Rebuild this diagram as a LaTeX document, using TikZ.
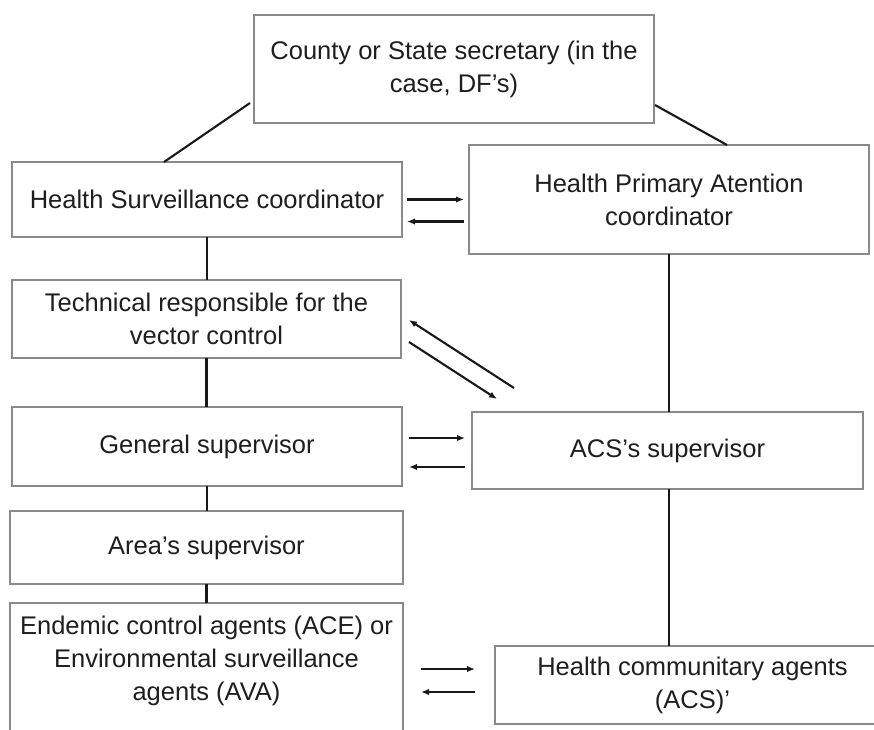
\documentclass[tikz,border=0pt]{standalone}
\usepackage{fontspec}
\setmainfont{Liberation Sans}
\usetikzlibrary{arrows.meta,calc}
\definecolor{boxgray}{HTML}{8A8A8A}
\definecolor{txt}{HTML}{1E1E1E}
\tikzset{
  orgbox/.style={draw=boxgray, line width=2.4pt, fill=white, inner sep=0pt, outer sep=0pt,
    align=center, text=txt, font=\fontsize{25.5pt}{33pt}\selectfont},
  link/.style={draw=black!90, line width=2.1pt},
  arr/.style={draw=black!90, line width=2.1pt, -{Latex[length=8pt,width=6.5pt]}},
  lbl/.style={align=center, text=txt, font=\fontsize{25.5pt}{33pt}\selectfont, inner sep=0pt}
}
\begin{document}
\begin{tikzpicture}[x=1pt,y=-1pt]
\useasboundingbox (0,0) rectangle (874,729);
\clip (0,0) rectangle (874,729);
\fill[white] (0,0) rectangle (874,729);

\node[orgbox, minimum width=400pt, minimum height=108pt] (top) at (454,69) {County or State secretary (in the\\case, DF's)};
\node[orgbox, minimum width=390pt, minimum height=75pt] (hsc) at (207,199.5) {Health Surveillance coordinator};
\node[orgbox, minimum width=400pt, minimum height=109pt] (hpa) at (669,199.5) {Health Primary Atention\\coordinator};
\node[orgbox, minimum width=389pt, minimum height=78pt] (tech) at (206.5,319) {Technical responsible for the\\vector control};
\node[orgbox, minimum width=390pt, minimum height=79pt] (gen) at (207,446.5) {General supervisor};
\node[orgbox, minimum width=391pt, minimum height=77pt] (acs) at (667.5,450.5) {ACS's supervisor};
\node[orgbox, minimum width=393pt, minimum height=73pt] (area) at (206.5,547.5) {Area's supervisor};
\node[orgbox, minimum width=393pt, minimum height=157pt] (end) at (206.5,681.5) {};
\node[lbl] (endtxt) at (206.5,661) {Endemic control agents (ACE) or\\Environmental surveillance\\agents (AVA)};
\node[orgbox, minimum width=395pt, minimum height=78pt] (hca) at (692.5,685) {Health communitary agents\\(ACS)'};

% hierarchy lines
\draw[link] ([shift={(-4pt,20pt)}]top.south west) -- ([xshift=152pt]hsc.north west);
\draw[link] ([shift={(1pt,18pt)}]top.south east) -- ([xshift=258pt]hpa.north west);
\draw[link] (hsc.south) -- (tech.north -| hsc.south);
\draw[link] (tech.south) -- (gen.north -| tech.south);
\draw[link] (gen.south) -- (area.north -| gen.south);
\draw[link] (area.south) -- (end.north -| area.south);
\draw[link] (hpa.south) -- (acs.north -| hpa.south);
\draw[link] (acs.south -| hpa.south) -- (hca.north -| hpa.south);

% two-way arrows
\draw[arr] ([xshift=5pt]hsc.east) -- ([xshift=-5pt]hsc.east -| hpa.west);
\draw[arr] ([shift={(-5pt,-22pt)}]hsc.east -| hpa.west) -- ([shift={(5pt,-22pt)}]hsc.east);

\draw[arr] ([shift={(113pt,-69pt)}]tech.east) -- ([shift={(8pt,-1pt)}]tech.east);
\draw[arr] ([shift={(8pt,-23pt)}]tech.east) -- ([shift={(96pt,-80pt)}]tech.east);

\draw[arr] ([shift={(7pt,8.5pt)}]gen.east) -- ([shift={(-7pt,8.5pt)}]gen.east -| acs.west);
\draw[arr] ([shift={(-7pt,-20.5pt)}]gen.east -| acs.west) -- ([shift={(7pt,-20.5pt)}]gen.east);

\draw[arr] ([shift={(18pt,12.5pt)}]end.east) -- ([shift={(-20pt,12.5pt)}]end.east -| hca.west);
\draw[arr] ([shift={(-20pt,-10.5pt)}]end.east -| hca.west) -- ([shift={(18pt,-10.5pt)}]end.east);
\end{tikzpicture}
\end{document}
